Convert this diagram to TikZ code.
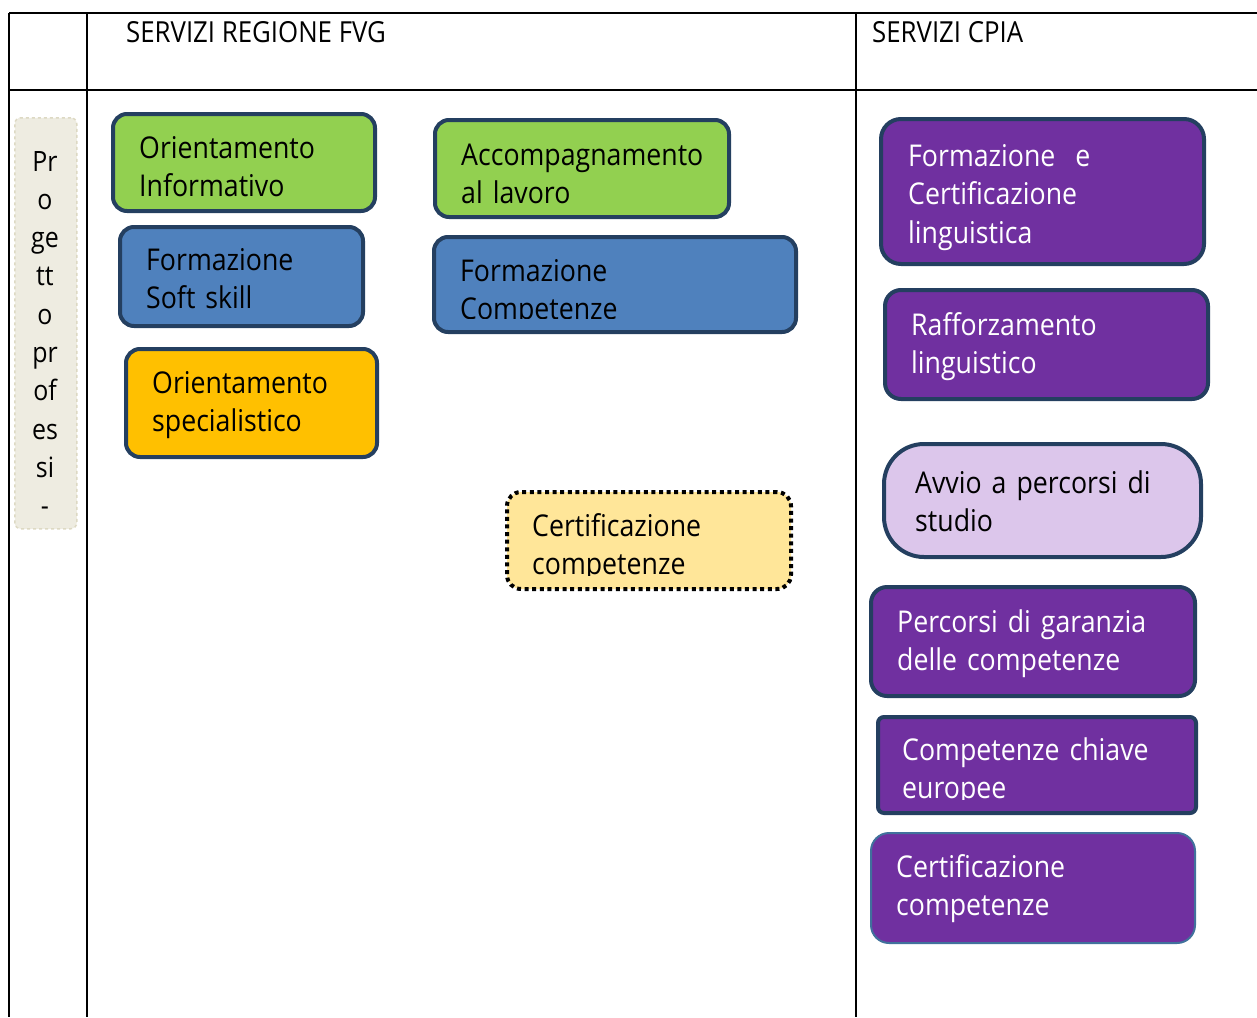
\documentclass[tikz,border=0pt]{standalone}
\usepackage{fontspec}
\setmainfont{Open Sans}[FakeStretch=0.89]
\definecolor{bgreen}{HTML}{92D050}
\definecolor{bblue}{HTML}{4F81BD}
\definecolor{borange}{HTML}{FFC000}
\definecolor{bnavy}{HTML}{243F60}
\definecolor{bpurple}{HTML}{7030A0}
\definecolor{blav}{HTML}{DCC6EB}
\definecolor{byellow}{HTML}{FFE699}
\definecolor{bbeige}{HTML}{EEECE1}
\definecolor{bbeigeline}{HTML}{DDD9C3}
\definecolor{bthin}{HTML}{41719C}
\begin{document}
\begin{tikzpicture}[x=1pt,y=-1pt,
  grid/.style={line width=2pt,black},
  svc/.style={draw=bnavy,line width=4pt,rounded corners=14pt,inner sep=0pt,outer sep=0pt,anchor=north west},
  lbl/.style={anchor=base west,inner sep=0pt,text width=330pt,align=left,font=\fontsize{30}{38.5}\selectfont},
  head/.style={anchor=base west,inner sep=0pt,font=\fontsize{29}{32}\selectfont}
]
\useasboundingbox (0,0) rectangle (1257,1017);
% table
\coordinate (tl) at (9,13);
\coordinate (tr) at (1257,13);
\coordinate (ml) at (9,90);
\coordinate (mr) at (1257,90);
\coordinate (bl) at (9,1017);
\coordinate (c1t) at (87,13);
\coordinate (c1b) at (87,1017);
\coordinate (c2t) at (856,13);
\coordinate (c2b) at (856,1017);
\draw[grid] (tl) -- (tr);
\draw[grid] (ml) -- (mr);
\draw[grid] (tl) -- (bl);
\draw[grid] (c1t) -- (c1b);
\draw[grid] (c2t) -- (c2b);
\node[head] (h1) at (126,42) {SERVIZI REGIONE FVG};
\node[head] (h2) at (872,42) {SERVIZI CPIA};
% left strip
\node[draw=bbeigeline,fill=bbeige,dashed,line width=1.5pt,rounded corners=6pt,minimum width=62pt,minimum height=411pt,inner sep=0pt,anchor=north west] (strip) at (14,117) {};
\begin{scope}
\clip (14,117) rectangle (76,508);
\node[anchor=base,inner sep=0pt,text width=60pt,align=center,font=\fontsize{28}{38.3}\selectfont] (striptext) at (45,171) {Pr\\o\\ge\\tt\\o\\pr\\of\\es\\si\\-};
\end{scope}
% regione boxes
\node[svc,fill=bgreen,minimum width=262pt,minimum height=97pt] (b1) at (113,114) {};
\node[lbl] (t1) at (139,158) {Orientamento\\Informativo};
\node[svc,fill=bblue,minimum width=243pt,minimum height=99pt] (b2) at (120,227) {};
\node[lbl] (t2) at (146,270) {Formazione\\Soft skill};
\node[svc,fill=borange,minimum width=251pt,minimum height=108pt] (b3) at (126,349) {};
\node[lbl] (t3) at (152,393) {Orientamento\\specialistico};
\node[svc,fill=bgreen,minimum width=294pt,minimum height=97pt] (b4) at (435,120) {};
\node[lbl] (t4) at (461,165) {Accompagnamento\\al lavoro};
\node[svc,fill=bblue,minimum width=362pt,minimum height=95pt] (b5) at (434,237) {};
\begin{scope}
\clip (434,237) rectangle (796,318);
\node[lbl] (t5) at (460,281) {Formazione\\Competenze};
\end{scope}
\node[svc,draw=black,fill=byellow,dash pattern=on 4pt off 3.6pt,minimum width=284pt,minimum height=97pt] (b6) at (507,492) {};
\begin{scope}
\clip (507,492) rectangle (791,575);
\node[lbl] (t6) at (532,536) {Certificazione\\competenze};
\end{scope}
% CPIA boxes
\node[svc,fill=bpurple,rounded corners=20pt,minimum width=323pt,minimum height=145pt] (b7) at (881,119) {};
\node[lbl,text=white] (t7) at (908,166) {Formazione\ \ e\\Certificazione\\linguistica};
\node[svc,fill=bpurple,rounded corners=16pt,minimum width=323pt,minimum height=109pt] (b8) at (885,290) {};
\node[lbl,text=white] (t8) at (911,335) {Rafforzamento\\linguistico};
\node[svc,fill=blav,rounded corners=40pt,minimum width=317pt,minimum height=113pt] (b9) at (884,444) {};
\node[lbl] (t9) at (915,493) {Avvio a percorsi di\\studio};
\node[svc,fill=bpurple,rounded corners=16pt,minimum width=324pt,minimum height=109pt] (b10) at (871,587) {};
\node[lbl,text=white] (t10) at (897,632) {Percorsi di garanzia\\delle competenze};
\node[svc,fill=bpurple,rounded corners=6pt,minimum width=318pt,minimum height=96pt] (b11) at (878,717) {};
\begin{scope}
\clip (878,717) rectangle (1196,799);
\node[lbl,text=white] (t11) at (902,760) {Competenze chiave\\europee};
\end{scope}
\node[svc,draw=bthin,line width=2pt,fill=bpurple,rounded corners=18pt,minimum width=324pt,minimum height=110pt] (b12) at (871,833) {};
\node[lbl,text=white] (t12) at (896,877) {Certificazione\\competenze};
\end{tikzpicture}
\end{document}
